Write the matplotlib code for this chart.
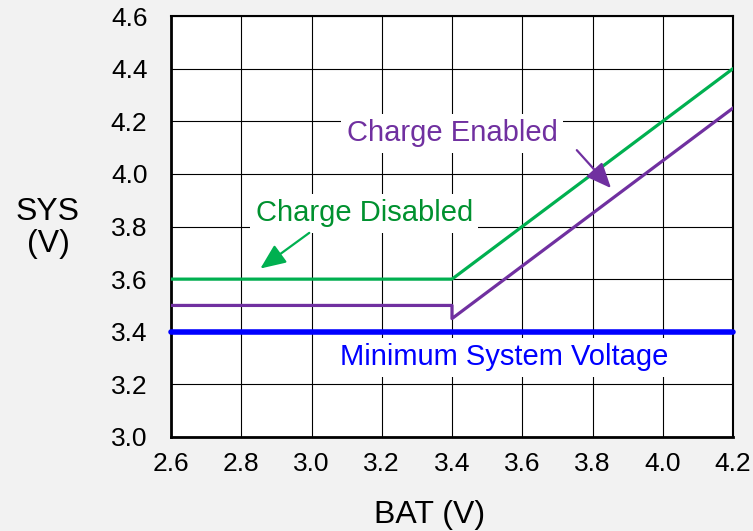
import matplotlib.pyplot as plt

plt.rcParams['font.family'] = ['Liberation Sans', 'DejaVu Sans']

bat_disabled = [2.6, 3.4, 4.2]
sys_disabled = [3.6, 3.6, 4.4]
bat_enabled = [2.6, 3.4, 3.4, 4.2]
sys_enabled = [3.5, 3.5, 3.45, 4.25]
bat_min = [2.6, 4.2]
sys_min = [3.4, 3.4]
xticks = [2.6, 2.8, 3.0, 3.2, 3.4, 3.6, 3.8, 4.0, 4.2]
yticks = [3.0, 3.2, 3.4, 3.6, 3.8, 4.0, 4.2, 4.4, 4.6]

green = '#00b050'
purple = '#7030a0'
blue = '#0000ff'

fig = plt.figure(figsize=(7.53, 5.31), dpi=100, facecolor='#f2f2f2')
ax = fig.add_axes([171 / 753, 1 - 437 / 531, 562 / 753, 421 / 531])
ax.set_facecolor('white')

ax.plot(bat_disabled, sys_disabled, color=green, lw=2.3, solid_capstyle='round', zorder=3)
ax.plot(bat_enabled, sys_enabled, color=purple, lw=2.3, zorder=3)
ax.plot(bat_min, sys_min, color=blue, lw=4, solid_capstyle='round', zorder=4, clip_on=False)

ax.set_xlim(2.6, 4.2)
ax.set_ylim(3.0, 4.6)
ax.set_xticks(xticks)
ax.set_yticks(yticks)
ax.set_xticklabels([f'{v:.1f}' for v in xticks])
ax.set_yticklabels([f'{v:.1f}' for v in yticks])
ax.tick_params(axis='y', length=0, labelsize=19, pad=17)
ax.tick_params(axis='x', length=0, labelsize=19, pad=11)
ax.grid(True, color='black', lw=0.8)
ax.set_axisbelow(True)
for side in ['left', 'bottom']:
    ax.spines[side].set_linewidth(2)
for side in ['top', 'right']:
    ax.spines[side].set_linewidth(1.5)

box = dict(facecolor='white', edgecolor='none', pad=4)
ax.text(3.4, 4.155, 'Charge Enabled', color=purple, fontsize=21, ha='center', va='center', bbox=box, zorder=5)
ax.text(3.15, 3.85, 'Charge Disabled', color='#00912f', fontsize=21, ha='center', va='center', bbox=box, zorder=5)
ax.text(3.548, 3.303, 'Minimum System Voltage', color=blue, fontsize=21, ha='center', va='center', bbox=box, zorder=5)

head = '-|>,head_length=0.7,head_width=0.3'
ax.annotate('', xy=(2.848, 3.634), xytext=(3.0, 3.782),
            arrowprops=dict(arrowstyle=head, color=green, lw=1.6, mutation_scale=22), zorder=6)
ax.annotate('', xy=(3.858, 3.938), xytext=(3.75, 4.098),
            arrowprops=dict(arrowstyle=head, color=purple, lw=1.6, mutation_scale=22), zorder=6)

fig.text(48 / 753, 1 - 228 / 531, 'SYS\n(V)', fontsize=23, ha='center', va='center', linespacing=1.05)
fig.text(430 / 753, 1 - 515 / 531, 'BAT (V)', fontsize=23, ha='center', va='center')

fig.savefig('out.png', dpi=100, facecolor=fig.get_facecolor())
